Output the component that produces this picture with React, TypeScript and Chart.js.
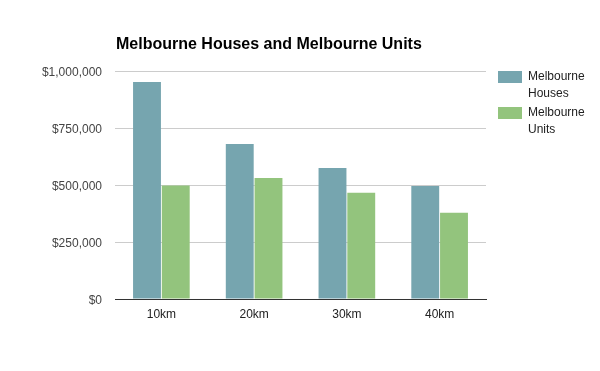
import React, { useEffect, useRef } from "react";
import { Chart, registerables } from "chart.js";

Chart.register(...registerables);

const categories = ["10km", "20km", "30km", "40km"];
const housesValues = [952000, 680000, 575000, 496000];
const unitsValues = [498000, 531000, 466000, 378000];
const seriesNames = ["Melbourne Houses", "Melbourne Units"];
const yTicks = [0, 250000, 500000, 750000, 1000000];
const titleText = "Melbourne Houses and Melbourne Units";

const colors = ["#76a5af", "#93c47d"];
const FONT = "'Liberation Sans', Arial, sans-serif";

const overlayPlugin = {
  id: "overlay",
  afterDraw(chart: any) {
    const { ctx, chartArea } = chart;
    ctx.save();
    // title
    ctx.fillStyle = "#000000";
    ctx.font = `bold 16px ${FONT}`;
    ctx.textBaseline = "middle";
    ctx.textAlign = "left";
    ctx.fillText(titleText, chartArea.left + 1, 45);
    // legend
    const lx = chartArea.right + 12;
    ctx.font = `12px ${FONT}`;
    seriesNames.forEach((name, i) => {
      const top = chartArea.top + i * 36;
      ctx.fillStyle = colors[i];
      ctx.fillRect(lx, top, 24, 12);
      ctx.fillStyle = "#222222";
      const words = name.split(" ");
      words.forEach((w, j) => {
        ctx.fillText(w, lx + 30, top + 6 + j * 17);
      });
    });
    ctx.restore();
  },
};

export default function App() {
  const ref = useRef<HTMLCanvasElement>(null);
  useEffect(() => {
    document.body.style.margin = "0";
    const chart = new Chart(ref.current!, {
      type: "bar",
      data: {
        labels: categories,
        datasets: [
          {
            label: seriesNames[0],
            data: housesValues,
            backgroundColor: colors[0],
            borderWidth: 0,
            barPercentage: 0.97,
            categoryPercentage: 0.62,
          },
          {
            label: seriesNames[1],
            data: unitsValues,
            backgroundColor: colors[1],
            borderWidth: 0,
            barPercentage: 0.97,
            categoryPercentage: 0.62,
          },
        ],
      },
      options: {
        animation: false,
        responsive: false,
        maintainAspectRatio: false,
        layout: { padding: { top: 71, right: 114, bottom: 0, left: 0 } },
        plugins: {
          legend: { display: false },
          title: { display: false },
          tooltip: { enabled: false },
        },
        scales: {
          x: {
            grid: { display: false, drawTicks: false },
            border: { display: true, color: "#333333", width: 1 },
            ticks: {
              color: "#222222",
              font: { family: FONT, size: 12 },
              padding: 8,
            },
            afterFit(scale: any) {
              scale.height = 72;
            },
          },
          y: {
            min: 0,
            max: 1000000,
            afterBuildTicks(scale: any) {
              scale.ticks = yTicks.map((v) => ({ value: v }));
            },
            grid: { color: "#cccccc", drawTicks: false, lineWidth: 1 },
            border: { display: false },
            ticks: {
              color: "#444444",
              font: { family: FONT, size: 12 },
              padding: 13,
              labelOffset: 2,
              callback: (v: any) => "$" + Number(v).toLocaleString("en-US"),
            },
            afterFit(scale: any) {
              scale.width = 115;
            },
          },
        },
      },
      plugins: [overlayPlugin],
    });
    return () => chart.destroy();
  }, []);
  return (
    <div style={{ width: 600, height: 371, position: "relative", background: "#fff" }}>
      <canvas ref={ref} width={600} height={371} style={{ display: "block" }} />
    </div>
  );
}
